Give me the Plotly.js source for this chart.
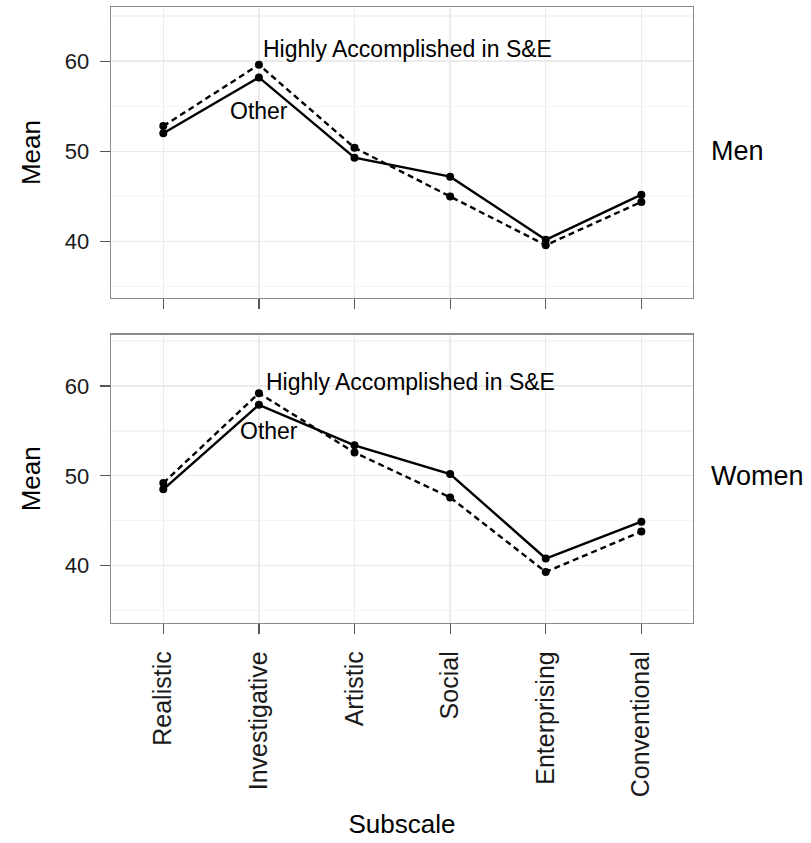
<!DOCTYPE html>
<html>
<head>
<meta charset="utf-8">
<script src="https://cdn.plot.ly/plotly-3.0.1.min.js"></script>
<style>
  html, body { margin: 0; padding: 0; background: #ffffff; }
  #chart { width: 811px; height: 843px; }
</style>
</head>
<body>
<div id="chart"></div>
<script>
// Holland interest subscales, mean scores by group
const subscales = ['Realistic', 'Investigative', 'Artistic', 'Social', 'Enterprising', 'Conventional'];

const menHighlyAccomplished   = [52.8, 59.6, 50.4, 45.0, 39.6, 44.4];
const menOther                = [52.0, 58.2, 49.3, 47.2, 40.2, 45.2];
const womenHighlyAccomplished = [49.2, 59.2, 52.6, 47.6, 39.3, 43.8];
const womenOther              = [48.5, 57.9, 53.4, 50.2, 40.8, 44.9];

const panelLabels = ['Men', 'Women'];
const groupLabels = ['Highly Accomplished in S&E', 'Other'];

const FONT = "'Liberation Sans', Arial, Helvetica, sans-serif";
const INK = '#000000';

function series(x, y, xa, ya, dashed, name) {
  return {
    type: 'scatter',
    mode: 'lines+markers',
    name: name,
    x: x, y: y,
    xaxis: xa, yaxis: ya,
    line: { color: INK, width: 2.4, dash: dashed ? '6px,4px' : 'solid' },
    marker: { color: INK, size: 8 },
    hoverinfo: 'x+y'
  };
}

const data = [
  series(subscales, menHighlyAccomplished, 'x', 'y', true, groupLabels[0]),
  series(subscales, menOther, 'x', 'y', false, groupLabels[1]),
  series(subscales, womenHighlyAccomplished, 'x2', 'y2', true, groupLabels[0]),
  series(subscales, womenOther, 'x2', 'y2', false, groupLabels[1])
];

const frame = {
  showline: true, mirror: true, linecolor: '#8a8a8a', linewidth: 1.3,
  zeroline: false, ticks: 'outside', ticklen: 10, tickwidth: 1.2, tickcolor: '#555555'
};

function xAxis(anchor, labels) {
  return Object.assign({}, frame, {
    anchor: anchor, domain: [0, 1], type: 'category',
    categoryorder: 'array', categoryarray: subscales,
    range: [-0.547, 5.54],
    showgrid: true, gridcolor: '#ebebeb', gridwidth: 1.3,
    showticklabels: labels,
    tickangle: -90,
    tickfont: { family: FONT, size: 25, color: '#1a1a1a' },
    ticklabelstandoff: 7
  });
}

function yAxis(anchor, domain, range) {
  return Object.assign({}, frame, {
    anchor: anchor, domain: domain, range: range,
    tick0: 0, dtick: 10,
    showgrid: true, gridcolor: '#ebebeb', gridwidth: 1.3,
    minor: { dtick: 5, tick0: 0, showgrid: true, gridcolor: '#f5f5f5', gridwidth: 1.2, ticks: '' },
    tickfont: { family: FONT, size: 22, color: '#1a1a1a' },
    ticklabelstandoff: 6,
    title: { text: 'Mean', font: { family: FONT, size: 26, color: INK }, standoff: 16 }
  });
}

const layout = {
  width: 811, height: 843,
  margin: { l: 111, r: 118, t: 7, b: 220, pad: 0 },
  paper_bgcolor: '#ffffff', plot_bgcolor: '#ffffff',
  showlegend: false,
  font: { family: FONT, color: INK },
  xaxis: Object.assign(xAxis('y', false), { matches: 'x2' }),
  xaxis2: Object.assign(xAxis('y2', true), {
    title: { text: 'Subscale', font: { family: FONT, size: 26, color: INK }, standoff: 18 }
  }),
  yaxis: yAxis('x', [0.5276, 1], [33.75, 66.0]),
  yaxis2: yAxis('x2', [0, 0.4683], [33.62, 65.73]),
  annotations: [
    { text: panelLabels[0], xref: 'paper', x: 1, xanchor: 'left', xshift: 16,
      yref: 'y', y: 50, yanchor: 'middle', showarrow: false,
      font: { family: FONT, size: 27, color: INK } },
    { text: panelLabels[1], xref: 'paper', x: 1, xanchor: 'left', xshift: 16,
      yref: 'y2', y: 50, yanchor: 'middle', showarrow: false,
      font: { family: FONT, size: 27, color: INK } },
    { text: groupLabels[0], xref: 'x', x: 1.02, xanchor: 'left',
      yref: 'y', y: 61.4, yanchor: 'middle', showarrow: false,
      font: { family: FONT, size: 23, color: INK } },
    { text: groupLabels[1], xref: 'x', x: 1.0, xanchor: 'center',
      yref: 'y', y: 54.5, yanchor: 'middle', showarrow: false,
      font: { family: FONT, size: 23, color: INK } },
    { text: groupLabels[0], xref: 'x2', x: 1.05, xanchor: 'left',
      yref: 'y2', y: 60.5, yanchor: 'middle', showarrow: false,
      font: { family: FONT, size: 23, color: INK } },
    { text: groupLabels[1], xref: 'x2', x: 1.11, xanchor: 'center',
      yref: 'y2', y: 55.0, yanchor: 'middle', showarrow: false,
      font: { family: FONT, size: 23, color: INK } }
  ]
};

Plotly.newPlot('chart', data, layout, { displayModeBar: false, staticPlot: true });
</script>
</body>
</html>
